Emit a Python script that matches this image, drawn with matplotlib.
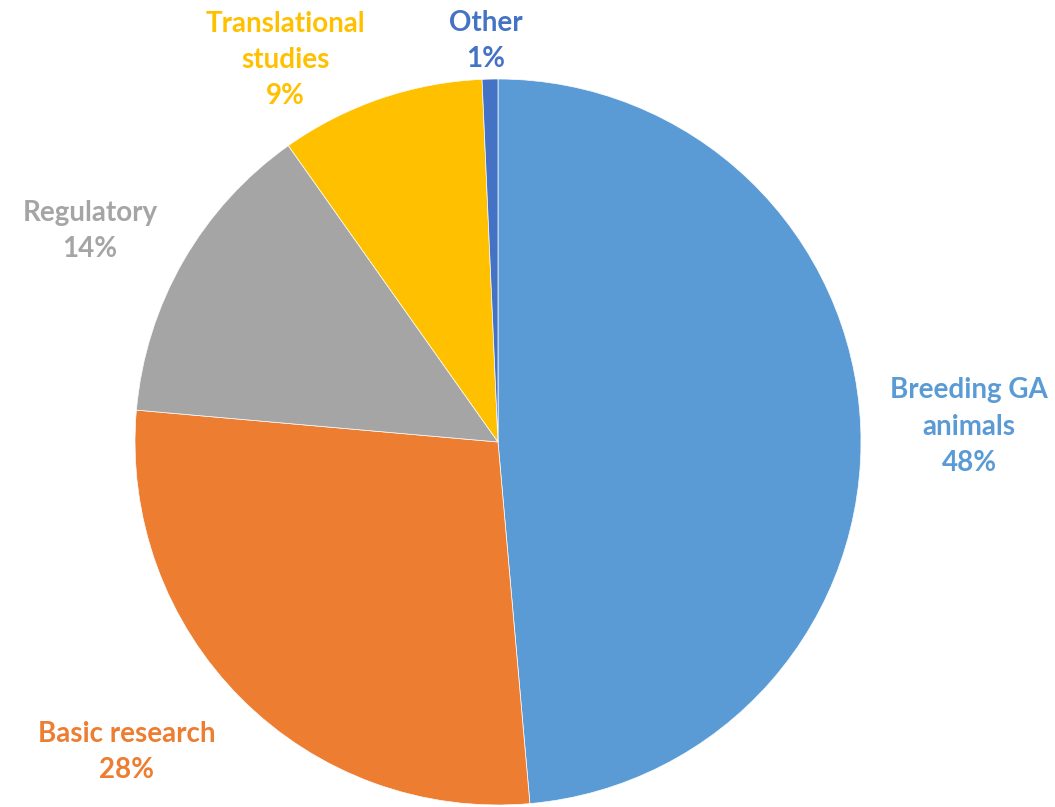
import matplotlib.pyplot as plt
import matplotlib.patheffects as pe

# Shares (percent), clockwise from 12 o'clock
categories = ["Breeding GA\nanimals", "Basic research", "Regulatory", "Translational\nstudies", "Other"]
shares = [48.6, 27.8, 13.8, 9.1, 0.7]
pct_labels = ["48%", "28%", "14%", "9%", "1%"]
colors = ["#5B9BD5", "#ED7D31", "#A5A5A5", "#FFC000", "#4472C4"]

# label anchor points in pixels (x, y from top) of the 1055x807 canvas
label_px = [(969, 427), (127, 752), (90, 231), (285, 60), (486, 41)]

W, H = 1055, 807
fig = plt.figure(figsize=(W / 100, H / 100), dpi=100)

# pie centre (498, 442) px, radius 363 px
cx, cy, r = 498, 442, 363
ax = fig.add_axes([(cx - r) / W, (H - cy - r) / H, 2 * r / W, 2 * r / H])
wedges, _ = ax.pie(shares, colors=colors, startangle=90, counterclock=False,
                   radius=1, wedgeprops=dict(linewidth=0.5, edgecolor="white"))
for w in wedges:
    w.set_path_effects([pe.SimplePatchShadow(offset=(0, 0), shadow_rgbFace="black", alpha=0.08, rho=1.0),
                        pe.Normal()])
ax.set_xlim(-1, 1)
ax.set_ylim(-1, 1)
ax.set_aspect("equal")
ax.axis("off")

for cat, pct, col, (lx, ly) in zip(categories, pct_labels, colors, label_px):
    fig.text(lx / W, 1 - ly / H, cat + "\n" + pct, color=col, ha="center", va="center",
             fontsize=20, fontweight="bold", family="Lato", linespacing=1.5)

fig.savefig("out.png", dpi=100)
